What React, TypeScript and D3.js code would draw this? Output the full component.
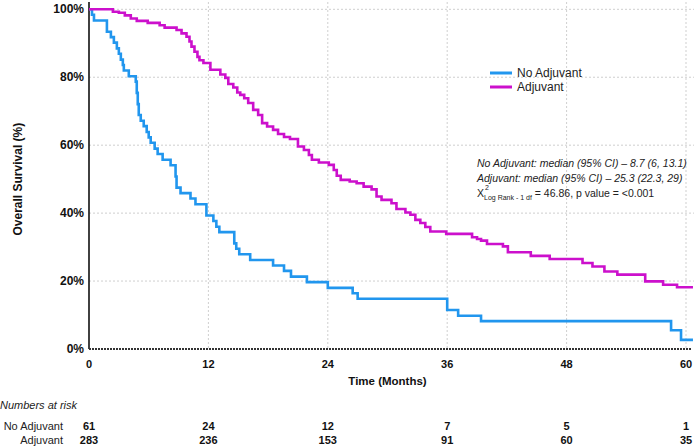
import * as React from 'react';
import {scaleLinear, line, curveStepAfter} from 'd3';

// Kaplan-Meier steps: [month, survival %]
const noAdjTimes = [0, 0.3, 0.5, 1.8, 2.2, 2.5, 2.8, 3.0, 3.2, 3.4, 3.5, 4.0, 4.7, 4.8, 4.9, 5.0, 5.2, 5.5, 5.8, 6.0, 6.2, 6.6, 6.9, 7.4, 8.2, 8.7, 8.8, 9.2, 10.2, 10.7, 11.8, 12.5, 12.8, 13.1, 14.6, 14.8, 15.1, 16.2, 18.5, 19.6, 20.3, 21.9, 24.0, 26.5, 27.0, 36.0, 37.1, 39.4, 58.5, 59.5, 60.7];
const noAdjSurv = [100, 98.4, 96.7, 93.4, 91.8, 90.2, 88.5, 86.9, 85.2, 83.6, 82.0, 80.3, 78.7, 75.4, 72.1, 68.9, 67.2, 65.6, 63.9, 62.3, 60.7, 59.0, 57.4, 55.7, 54.1, 50.8, 47.5, 45.9, 44.3, 42.6, 39.3, 37.7, 36.0, 34.4, 31.1, 29.5, 27.9, 26.2, 24.6, 23.0, 21.3, 19.7, 18.0, 16.4, 14.8, 11.5, 9.8, 8.2, 5.5, 2.7, 2.7];

const adjTimes = [0, 2.4, 3.0, 3.6, 4.2, 4.8, 5.9, 7.1, 7.6, 8.8, 9.3, 9.8, 10.1, 10.3, 10.6, 10.9, 11.1, 11.5, 12.2, 13.2, 13.7, 14.0, 14.5, 14.9, 15.2, 15.6, 16.0, 16.5, 17.0, 17.4, 17.9, 18.5, 19.0, 19.6, 20.2, 21.0, 21.6, 22.1, 22.4, 23.1, 24.1, 24.6, 24.9, 25.3, 26.2, 26.9, 27.6, 28.4, 28.9, 29.4, 30.4, 30.9, 31.8, 32.3, 32.8, 33.3, 33.8, 34.3, 35.9, 38.5, 39.0, 39.4, 40.0, 41.6, 42.1, 44.4, 46.3, 49.6, 50.6, 51.8, 53.1, 55.9, 57.7, 59.1, 60.7];
const adjSurv = [100, 99.3, 99.0, 98.2, 97.3, 96.6, 96.0, 95.3, 94.6, 93.9, 92.9, 91.9, 90.5, 89.0, 87.5, 86.0, 85.0, 84.2, 82.2, 80.8, 79.8, 78.0, 77.0, 75.5, 74.8, 73.8, 72.4, 70.4, 68.9, 66.5, 65.5, 64.5, 63.3, 62.4, 61.8, 59.6, 58.6, 57.1, 55.7, 54.9, 54.2, 52.7, 51.0, 49.8, 49.3, 48.8, 47.8, 47.0, 44.9, 43.9, 42.9, 41.2, 40.2, 39.5, 38.0, 37.1, 35.9, 34.6, 33.9, 32.9, 32.4, 31.9, 30.9, 30.2, 28.5, 27.4, 26.5, 25.3, 24.3, 22.8, 21.9, 19.9, 18.9, 18.2, 18.2];

const xTicks = [0, 12, 24, 36, 48, 60];
const yTicks = [0, 20, 40, 60, 80, 100];
const groups = ['No Adjuvant', 'Adjuvant'];
const riskNoAdj = [61, 24, 12, 7, 5, 1];
const riskAdj = [283, 236, 153, 91, 60, 35];

const width = 694;
const height = 446;
const font = '"Liberation Sans", Arial, Helvetica, sans-serif';
const blue = '#2196ee';
const magenta = '#cc10cc';

const x = scaleLinear().domain([0, 60]).range([89, 686]);
const y = scaleLinear().domain([0, 100]).range([349, 9.3]);

const stepLine = line<[number, number]>()
    .x(d => x(d[0]))
    .y(d => y(d[1]))
    .curve(curveStepAfter);

const zip = (t: number[], s: number[]) => t.map((v, i) => [v, s[i]] as [number, number]);

export default function App() {
    const series = [
        {name: groups[0], color: blue, d: stepLine(zip(noAdjTimes, noAdjSurv))},
        {name: groups[1], color: magenta, d: stepLine(zip(adjTimes, adjSurv))},
    ];
    return (
        <svg width={width} height={height} style={{position: 'absolute', left: 0, top: 0}} fontFamily={font}>
            {/* grid */}
            {yTicks.filter(t => t > 0).map(t =>
                <line key={'gy' + t} x1={x(0)} x2={width} y1={y(t)} y2={y(t)}
                      stroke="#cfcfcf" strokeWidth={1} strokeDasharray="2,2"/>
            )}
            {xTicks.filter(t => t > 0).map(t =>
                <line key={'gx' + t} x1={x(t)} x2={x(t)} y1={2} y2={y(0)}
                      stroke="#cfcfcf" strokeWidth={1} strokeDasharray="2,2"/>
            )}
            {/* axes */}
            <line x1={x(0)} x2={x(0)} y1={2} y2={y(0)} stroke="#111" strokeWidth={1.6}/>
            <line x1={x(0)} x2={692} y1={y(0)} y2={y(0)} stroke="#333" strokeWidth={2} strokeDasharray="2,1"/>
            {yTicks.map(t =>
                <text key={'ty' + t} x={84} y={y(t) + 4} textAnchor="end" fontSize={12} fontWeight="bold" fill="#111">{t}%</text>
            )}
            {xTicks.map(t =>
                <text key={'tx' + t} x={x(t)} y={368} textAnchor="middle" fontSize={11} fontWeight="bold" fill="#111">{t}</text>
            )}
            <text x={(x(0) + x(60)) / 2} y={385} textAnchor="middle" fontSize={11.5} fontWeight="bold" fill="#111">Time (Months)</text>
            <text transform={`translate(22,${(y(0) + y(100)) / 2}) rotate(-90)`} textAnchor="middle" fontSize={12} fontWeight="bold" fill="#111">Overall Survival (%)</text>

            {/* curves */}
            {series.map(s =>
                <path key={s.name} d={s.d ?? ''} fill="none" stroke={s.color} strokeWidth={2.6}/>
            )}

            {/* legend */}
            {series.map((s, i) =>
                <g key={'lg' + s.name} transform={`translate(490,${73 + i * 14})`}>
                    <line x1={0} x2={22} y1={0} y2={0} stroke={s.color} strokeWidth={3}/>
                    <text x={27} y={4} fontSize={12} fill="#222">{s.name}</text>
                </g>
            )}

            {/* annotation */}
            <g fontSize={10.5} fill="#222" style={{whiteSpace: 'pre'}}>
                <text x={477} y={167} fontStyle="italic">No Adjuvant: median (95% CI) –  8.7 (6, 13.1)</text>
                <text x={477} y={182} fontStyle="italic">Adjuvant: median (95% CI) –  25.3 (22.3, 29)</text>
                <text x={477} y={197}>
                    X
                    <tspan fontSize={7} dy={3}>Log Rank - 1 df</tspan>
                    <tspan dy={-3}> = 46.86, p value = &lt;0.001</tspan>
                </text>
                <text x={485} y={190} fontSize={7}>2</text>
            </g>

            {/* numbers at risk */}
            <text x={0} y={409} fontSize={11} fontStyle="italic" fill="#222">Numbers at risk</text>
            {[riskNoAdj, riskAdj].map((row, r) =>
                <g key={'risk' + r}>
                    <text x={63} y={430 + r * 14} textAnchor="end" fontSize={11} fill="#222">{groups[r]}</text>
                    {row.map((v, i) =>
                        <text key={i} x={x(xTicks[i])} y={430 + r * 14} textAnchor="middle" fontSize={11} fontWeight="bold" fill="#111">{v}</text>
                    )}
                </g>
            )}
        </svg>
    );
}
